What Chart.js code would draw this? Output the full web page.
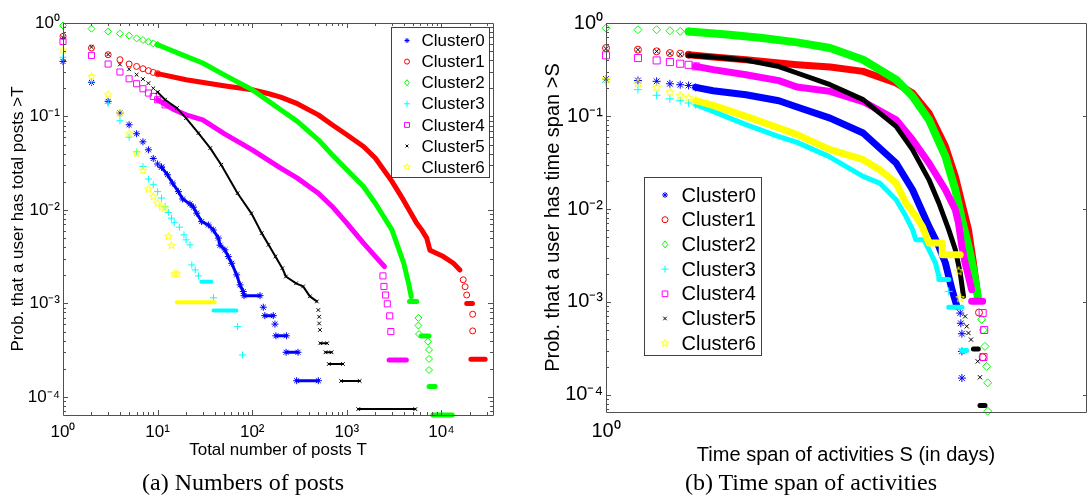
<!DOCTYPE html>
<html><head><meta charset="utf-8">
<script src="https://cdn.jsdelivr.net/npm/chart.js@4.4.1/dist/chart.umd.min.js"></script>
<style>
html,body{margin:0;padding:0;background:#fff;width:1092px;height:497px;overflow:hidden;}
#wa{position:absolute;left:0;top:0;width:540px;height:470px;}
#wb{position:absolute;left:540px;top:0;width:552px;height:470px;}
.cap{position:absolute;top:468px;width:400px;text-align:center;font-family:'Liberation Serif','Times New Roman',serif;font-size:24px;line-height:28px;white-space:nowrap;color:#000;}
</style></head><body>
<div id="wa"><canvas id="ca" width="540" height="470"></canvas></div>
<div id="wb"><canvas id="cb" width="552" height="470"></canvas></div>
<div class="cap" style="left:43px">(a) Numbers of posts</div>
<div class="cap" style="left:611px">(b) Time span of activities</div>
<script>
// ---------------- DATA ----------------
const clusterNames = ['Cluster0','Cluster1','Cluster2','Cluster3','Cluster4','Cluster5','Cluster6'];

// (a) Numbers of posts : [T, P(total posts > T)]
const aPts0 = [[1,0.388],[2,0.231],[3,0.145],[4,0.109],[5,0.0815],[6,0.0653],[7,0.0536],[8,0.044],[9,0.0355],[10,0.031],[11,0.0287],[131,0.00091],[174,0.0006]];
const aBand0 = [[11,0.0287],[12.7,0.0238],[14.4,0.0194],[16.6,0.0157],[18.4,0.0131],[22,0.0116],[23.9,0.0107],[25.9,0.00924],[29.2,0.0075],[34.4,0.0069],[38.8,0.0061],[43.9,0.005],[45.7,0.0042],[51.5,0.00374],[55.9,0.00317],[60.7,0.00269],[68.5,0.00202],[74.3,0.00158],[80.5,0.00134],[82,0.00121],[121,0.00121],null,[136,0.00074],[167,0.00074],null,[178,0.00045],[230,0.00045],null,[228,0.0003],[305,0.0003],null,[295,0.000149],[500,0.000149]];
const aPts1 = [[1,0.72],[2,0.54],[3,0.458],[4,0.405],[5,0.364],[6,0.343],[7,0.324],[8,0.309],[9,0.296],[10,0.287],[17000,0.00179],[17800,0.00151],[18500,0.00123],[21400,0.000766],[21400,0.000508]];
const aBand1 = [[10,0.287],[20,0.247],[50,0.213],[100,0.193],[150,0.175],[200,0.161],[300,0.137],[500,0.104],[700,0.0815],[1000,0.0637],[1500,0.0478],[2000,0.0359],[3000,0.0202],[3960,0.0128],[5480,0.00722],[6190,0.00612],[7000,0.005],[7570,0.0037],[10500,0.00317],[13400,0.00269],[15700,0.00228],null,[18500,0.001],[21300,0.001],null,[20500,0.000252],[29000,0.000252]];
const aPts2 = [[1,0.94],[2,0.87],[3,0.81],[4,0.769],[5,0.732],[6,0.685],[7,0.658],[8,0.631],[9,0.605],[10,0.586],[5710,0.0007],[5710,0.00058],[5800,0.00047],[7200,0.00039],[7400,0.000318],[7400,0.000255],[7400,0.000194]];
const aBand2 = [[10,0.586],[20,0.44],[30,0.373],[50,0.28],[100,0.193],[150,0.145],[200,0.118],[300,0.0886],[500,0.0563],[700,0.0389],[1000,0.0269],[1500,0.0178],[2000,0.0118],[3000,0.00612],[4000,0.00269],[4500,0.00164],[4800,0.00118],null,[4600,0.00105],[5480,0.00105],null,[6100,0.000449],[7400,0.000449],null,[7400,0.000129],[8600,0.000129],null,[8140,0.000064],[13000,0.000064]];
const aPts3 = [[1,0.43],[2,0.235],[3,0.138],[4,0.09],[5,0.06],[6,0.042],[7,0.0292],[8,0.0214],[9,0.0186],[10,0.0157],[11,0.0134],[12,0.0109],[13,0.0094],[14,0.00817],[15,0.0073],[17,0.00654],[19,0.00542],[20,0.00479],[22,0.00423],[23,0.00258],[25,0.00228],[27,0.00197],[39,0.00115],[70,0.000565],[79,0.000281]];
const aBand3 = [[29,0.00171],[37,0.00171],null,[39,0.00084],[68,0.00084]];
const aPts4 = [[1,0.635],[2,0.45],[3,0.364],[4,0.299],[5,0.253],[6,0.224],[7,0.198],[8,0.178],[9,0.164],[10,0.151],[12,0.133],[2410,0.00197],[2470,0.00152],[2570,0.00123],[2680,0.00099],[2840,0.000736],[2920,0.0005]];
const aBand4 = [[10,0.151],[15,0.118],[20,0.104],[30,0.092],[50,0.066],[100,0.044],[200,0.028],[300,0.0219],[500,0.0151],[700,0.0109],[1000,0.00722],[1500,0.00441],[2000,0.00318],[2500,0.00248],null,[2800,0.000248],[4260,0.000248]];
const aPts5 = [[1,0.70],[2,0.553],[3,0.46],[4,0.36],[5,0.32],[6,0.28],[7,0.251],[8,0.227],[9,0.2],[10,0.182],[500,0.00085],[510,0.00072],[510,0.00061],[520,0.00052]];
const aBand5 = [[10,0.182],[12,0.151],[16,0.123],[20,0.096],[27,0.0664],[36,0.0459],[47,0.0304],[70,0.0151],[98,0.0092],[126,0.00565],[149,0.00424],[176,0.00318],[208,0.00238],[227,0.00194],[291,0.00164],[345,0.00152],[407,0.00119],[482,0.00105],null,[525,0.000375],[620,0.000375],null,[595,0.0003],[690,0.0003],null,[645,0.000225],[910,0.000225],null,[870,0.000148],[1370,0.000148],null,[1320,0.000074],[5300,0.000074]];
const aPts6 = [[1,0.51],[2,0.268],[3,0.171],[4,0.109],[5,0.0653],[6,0.0405],[7,0.0264],[8,0.0167],[9,0.0139],[10,0.0118],[11,0.0107],[12,0.0104],[13,0.0052],[14,0.00416],[15,0.00207],[16,0.00207]];
const aBand6 = [[16,0.00103],[40,0.00103]];

// (b) Time span of activities : [S, P(time span > S)]
const bPts0 = [[1,0.25],[2,0.241],[3,0.236],[4,0.222],[5,0.217],[6,0.213],[7,0.203],[2170,0.00076],[2200,0.00059],[2250,0.000456],[2250,0.000294],[2250,0.000152]];
const bBand0 = [[7,0.203],[10.2,0.187],[20.8,0.169],[42.5,0.146],[63,0.125],[129,0.095],[264,0.0656],[540,0.0312],[771,0.0161],[1100,0.0065],[1365,0.00396],[1574,0.00262],[1815,0.00136],[2020,0.000897]];
const bPts1 = [[1,0.538],[2,0.517],[3,0.496],[4,0.475],[5,0.468],[6,0.456],[3260,0.00077],[3530,0.000254]];
const bBand1 = [[6,0.456],[10.2,0.43],[20.8,0.403],[42.5,0.371],[63,0.356],[129,0.336],[264,0.302],[540,0.226],[771,0.177],[1100,0.108],[1574,0.0472],[1950,0.0224],[2250,0.0116],[2595,0.006],[2890,0.00262],[3170,0.00115]];
const bPts2 = [[1,0.88],[2,0.847],[3,0.847],[4,0.826],[5,0.813],[6,0.81],[3450,0.00065],[3580,0.0005],[3715,0.000333],[3850,0.000203],[3935,0.000135],[3935,0.000067]];
const bBand2 = [[6,0.81],[14.6,0.748],[29.7,0.689],[63,0.619],[129,0.538],[264,0.403],[540,0.246],[771,0.163],[1100,0.0912],[1574,0.0368],[1950,0.0161],[2250,0.00767],[2595,0.00396],[2890,0.00222],[3170,0.00115]];
const bPts3 = [[1,0.23],[2,0.192],[3,0.167],[4,0.153],[5,0.146],[6,0.138],[7,0.132],[1690,0.0013]];
const bBand3 = [[7,0.132],[10.2,0.112],[14.6,0.095],[20.8,0.0807],[42.5,0.06],[63,0.052],[124,0.037],[264,0.0224],[378,0.019],[540,0.0126],[668,0.00834],[771,0.006],[828,0.00468],[988,0.00468],[1100,0.00366],[1270,0.00262],[1365,0.00189],[1365,0.00174],[1690,0.00174],null,[1690,0.00088],[2250,0.00088],null,[2250,0.0003],[2500,0.0003]];
const bPts4 = [[1,0.449],[2,0.42],[3,0.396],[4,0.38],[5,0.365],[6,0.355],[7,0.342],[3530,0.00076],[3650,0.0005],[3590,0.000256]];
const bBand4 = [[7,0.342],[10.2,0.315],[20.8,0.278],[42.5,0.24],[63,0.205],[129,0.184],[264,0.143],[540,0.0912],[771,0.0556],[1100,0.0312],[1574,0.0161],[1950,0.00984],[2090,0.00706],[2250,0.00396],[2414,0.00262],[2595,0.00189],[2780,0.00136],null,[2780,0.00102],[3530,0.00102]];
const bPts5 = [[1,0.53],[2,0.517],[3,0.496],[4,0.47],[5,0.46],[6,0.45],[2414,0.0007],[2500,0.000547],[2595,0.000464],[2744,0.000394],[3170,0.00023],[3330,0.000155]];
const bBand5 = [[6,0.45],[10.2,0.43],[20.8,0.40],[42.5,0.34],[63,0.29],[129,0.217],[264,0.15],[540,0.0774],[771,0.0435],[1100,0.0207],[1365,0.0116],[1690,0.006],[1950,0.00366],[2170,0.00205],[2330,0.00115],null,[2890,0.000312],[3210,0.000312],null,[3330,0.000077],[3715,0.000077]];
const bPts6 = [[1,0.245],[2,0.226],[3,0.203],[4,0.179],[5,0.165],[6,0.157],[7,0.146],[2094,0.00214],[2170,0.0011]];
const bBand6 = [[7,0.146],[10.2,0.13],[20.8,0.099],[42.5,0.0743],[63,0.063],[129,0.0435],[264,0.0339],[378,0.0265],[540,0.019],[668,0.0116],[828,0.00834],[953,0.0065],[1100,0.0043],[1470,0.0043],[1470,0.00323],[2170,0.00323]];

// ticks
const aXTicks = [1,10,100,1000,10000];
const aXLabels = ['10\u2070','10\u00b9','10\u00b2','10\u00b3','10\u2074'];
const aYTicks = [1,0.1,0.01,0.001,0.0001];
const aYLabels = ['10\u2070','10\u207b\u00b9','10\u207b\u00b2','10\u207b\u00b3','10\u207b\u2074'];
const bXTicks = [1];
const bXLabels = ['10\u2070'];
const bYTicks = [1,0.1,0.01,0.001,0.0001];
const bYLabels = ['10\u2070','10\u207b\u00b9','10\u207b\u00b2','10\u207b\u00b3','10\u207b\u2074'];
const aRange = {xMin:1, xMax:35100, yMin:6.4e-5, yMax:1};
const bRange = {xMin:1, xMax:33200, yMin:6.56e-5, yMax:1};

// ---------------- STYLE ----------------
const FONT = "'Liberation Sans', Arial, sans-serif";
const colors = ['#0000ff','#ff0000','#00ff00','#00ffff','#ff00ff','#000000','#ffff00'];
const markers = ['star','circle','rectRot','cross','rect','crossRot','pentagram'];

function makePentagram(R, color){
  const s = Math.ceil(2*R + 3);
  const c = document.createElement('canvas'); c.width = s; c.height = s;
  const g = c.getContext('2d'); const cx = s/2, cy = s/2;
  g.beginPath();
  for (let k = 0; k < 10; k++) {
    const r = k % 2 === 0 ? R : R * 0.42;
    const a = -Math.PI/2 + k * Math.PI/5;
    const px = cx + r*Math.cos(a), py = cy + r*Math.sin(a);
    if (k === 0) g.moveTo(px, py); else g.lineTo(px, py);
  }
  g.closePath(); g.strokeStyle = color; g.lineWidth = 1; g.stroke();
  return c;
}

function toXY(arr){
  let last = 1;
  return arr.map(p => { if (p) { last = p[0]; return {x:p[0], y:p[1]}; } return {x:last, y:null}; });
}

function buildDatasets(pts, bands, radii, widths, bandMarks, starR){
  const ds = [];
  for (let i = 0; i < 7; i++) {
    const c = colors[i];
    const ps = markers[i] === 'pentagram' ? makePentagram(starR, c) : markers[i];
    ds.push({label: clusterNames[i] + ' tail', data: toXY(bands[i]), showLine: true, borderColor: c,
      backgroundColor: c, borderWidth: widths[i], pointRadius: bandMarks[i] ? radii[i] : 0,
      pointStyle: ps, pointBorderColor: c, pointBackgroundColor: 'rgba(0,0,0,0)', pointBorderWidth: 1,
      spanGaps: false, clip: false,
      borderCapStyle: 'round', borderJoinStyle: 'round', fill: false, order: 40 - 2*i});
    ds.push({label: clusterNames[i], data: toXY(pts[i]), showLine: false, pointStyle: ps,
      pointRadius: radii[i], pointBorderColor: c, pointBackgroundColor: 'rgba(0,0,0,0)',
      pointBorderWidth: 1, clip: false, order: 39 - 2*i});
  }
  return ds;
}

function drawMarker(ctx, style, x, y, r, color, starCanvas){
  ctx.save(); ctx.strokeStyle = color; ctx.lineWidth = 1; ctx.beginPath();
  if (style === 'star' || style === 'cross') { ctx.moveTo(x-r,y); ctx.lineTo(x+r,y); ctx.moveTo(x,y-r); ctx.lineTo(x,y+r); }
  if (style === 'star' || style === 'crossRot') { const d = r*0.7071; ctx.moveTo(x-d,y-d); ctx.lineTo(x+d,y+d); ctx.moveTo(x-d,y+d); ctx.lineTo(x+d,y-d); }
  if (style === 'circle') ctx.arc(x, y, r, 0, Math.PI*2);
  if (style === 'rect') { const d = r*0.7071; ctx.rect(x-d, y-d, 2*d, 2*d); }
  if (style === 'rectRot') { ctx.moveTo(x, y-r); ctx.lineTo(x+r*0.8, y); ctx.lineTo(x, y+r); ctx.lineTo(x-r*0.8, y); ctx.closePath(); }
  ctx.stroke();
  if (style === 'pentagram') ctx.drawImage(starCanvas, x - starCanvas.width/2, y - starCanvas.height/2);
  ctx.restore();
}

const legendPlugin = {
  id: 'clusterLegend',
  afterDraw(chart, args, o) {
    const ctx = chart.ctx;
    ctx.save();
    ctx.fillStyle = '#fff'; ctx.fillRect(o.x, o.y, o.w, o.h);
    ctx.strokeStyle = '#404040'; ctx.lineWidth = 1;
    ctx.strokeRect(o.x + 0.5, o.y + 0.5, o.w, o.h);
    ctx.font = o.size + 'px ' + FONT; ctx.fillStyle = '#000'; ctx.textBaseline = 'middle'; ctx.textAlign = 'left';
    for (let i = 0; i < 7; i++) {
      const yy = o.y0 + i * o.dy;
      const sc = makePentagram(o.starR, colors[i]);
      drawMarker(ctx, markers[i], o.mx, yy, o.mr[i], colors[i], sc);
      ctx.fillStyle = '#000';
      ctx.fillText(clusterNames[i], o.tx, yy + 1);
    }
    ctx.restore();
  }
};

const framePlugin = {
  id: 'frameTicks',
  afterDatasetsDraw(chart, args, o) {
    const {ctx, chartArea: ca} = chart;
    const xs = chart.scales.x, ys = chart.scales.y;
    ctx.save(); ctx.strokeStyle = '#505050'; ctx.lineWidth = 1;
    ctx.beginPath();
    ctx.moveTo(ca.left + 0.5, ca.top + 0.5); ctx.lineTo(ca.right + 0.5, ca.top + 0.5);
    ctx.moveTo(ca.left + 0.5, ca.top + 0.5); ctx.lineTo(ca.left + 0.5, ca.bottom + 0.5);
    ctx.moveTo(ca.left + 0.5, ca.bottom + 0.5); ctx.lineTo(ca.right + 0.5, ca.bottom + 0.5);
    ctx.moveTo(ca.right + 0.5, ca.top + 0.5); ctx.lineTo(ca.right + 0.5, ca.bottom + 0.5);
    ctx.stroke();
    ctx.beginPath();
    if (o.xTicks) {
      for (let k = 0; k <= 5; k++) for (let m = 1; m <= 9; m++) {
        const v = m * Math.pow(10, k);
        if (v < xs.min || v > xs.max) continue;
        const p = Math.round(xs.getPixelForValue(v)) + 0.5, L = m === 1 ? 5 : 3;
        ctx.moveTo(p, ca.bottom); ctx.lineTo(p, ca.bottom - L);
        ctx.moveTo(p, ca.top); ctx.lineTo(p, ca.top + L);
      }
    }
    for (let k = -5; k <= 0; k++) for (let m = 1; m <= 9; m++) {
      const v = m * Math.pow(10, k);
      if (v < ys.min || v > ys.max) continue;
      const p = Math.round(ys.getPixelForValue(v)) + 0.5, L = m === 1 ? 5 : 3;
      ctx.moveTo(ca.left, p); ctx.lineTo(ca.left + L, p);
      if (o.rightAll || m === 1) { ctx.moveTo(ca.right, p); ctx.lineTo(ca.right - (o.rightAll ? L : 3), p); }
    }
    ctx.stroke(); ctx.restore();
  }
};

function makeScales(r, xT, xL, yT, yL, fs, xTitle, yTitle, yW, xH, yTitlePad, xTitlePad){
  return {
    x: {type: 'logarithmic', min: r.xMin, max: r.xMax,
      afterBuildTicks: s => { s.ticks = xT.map(v => ({value: v})); },
      afterFit: s => { s.height = xH; },
      ticks: {callback: v => { const i = xT.indexOf(v); return i >= 0 ? xL[i] : ''; },
        font: {family: FONT, size: fs}, color: '#000', padding: 7, autoSkip: false, maxRotation: 0, minRotation: 0},
      grid: {display: false, drawTicks: false}, border: {display: false},
      title: {display: true, text: xTitle, color: '#000', font: {family: FONT, size: fs}, padding: {top: 0, bottom: xTitlePad}}},
    y: {type: 'logarithmic', min: r.yMin, max: r.yMax,
      afterBuildTicks: s => { s.ticks = yT.map(v => ({value: v})); },
      afterFit: s => { s.width = yW; },
      ticks: {callback: v => { const i = yT.indexOf(v); return i >= 0 ? yL[i] : ''; },
        font: {family: FONT, size: fs}, color: '#000', padding: 3, autoSkip: false},
      grid: {display: false, drawTicks: false}, border: {display: false},
      title: {display: true, text: yTitle, color: '#000', font: {family: FONT, size: fs}, padding: {top: yTitlePad, bottom: 0}}}
  };
}

Chart.defaults.font.family = FONT;

new Chart(document.getElementById('ca'), {
  type: 'scatter',
  data: {datasets: buildDatasets([aPts0,aPts1,aPts2,aPts3,aPts4,aPts5,aPts6],
    [aBand0,aBand1,aBand2,aBand3,aBand4,aBand5,aBand6],
    [3.5,3,3.5,3.5,4.3,2.6,3.5], [3,5,5,4,5,2,4], [true,false,false,false,false,true,false], 4)},
  options: {
    responsive: false, animation: false, devicePixelRatio: 1, events: [],
    layout: {padding: {left: 0, right: 47, top: 23, bottom: 0}},
    scales: makeScales(aRange, aXTicks, aXLabels, aYTicks, aYLabels, 17,
      'Total number of posts T', 'Prob. that a user has total posts >T', 63, 55, 8, 9),
    plugins: {legend: {display: false}, tooltip: {enabled: false},
      frameTicks: {xTicks: true, rightAll: true},
      clusterLegend: {x: 391, y: 27, w: 98, h: 150, y0: 40.5, dy: 21.1, mx: 407, tx: 421.5, size: 17,
        mr: [2.5,2.5,3,3,3.5,2,3], starR: 3.5}}
  },
  plugins: [framePlugin, legendPlugin]
});

new Chart(document.getElementById('cb'), {
  type: 'scatter',
  data: {datasets: buildDatasets([bPts0,bPts1,bPts2,bPts3,bPts4,bPts5,bPts6],
    [bBand0,bBand1,bBand2,bBand3,bBand4,bBand5,bBand6],
    [4,3.5,4,4,5,3,4], [7,7,8,5,7,5,7], [false,false,false,false,false,false,false], 4.5)},
  options: {
    responsive: false, animation: false, devicePixelRatio: 1, events: [],
    layout: {padding: {left: 0, right: 0, top: 23, bottom: 0}},
    scales: makeScales(bRange, bXTicks, bXLabels, bYTicks, bYLabels, 20,
      'Time span of activities S (in days)', 'Prob. that a user has time span >S', 66, 58, 1, 3),
    plugins: {legend: {display: false}, tooltip: {enabled: false},
      frameTicks: {xTicks: false, rightAll: false},
      clusterLegend: {x: 104, y: 177, w: 117, h: 178, y0: 195, dy: 24.7, mx: 125, tx: 141.5, size: 20,
        mr: [3,3,3.5,3.5,4,2.5,3.5], starR: 4}}
  },
  plugins: [framePlugin, legendPlugin]
});
</script>
</body></html>
